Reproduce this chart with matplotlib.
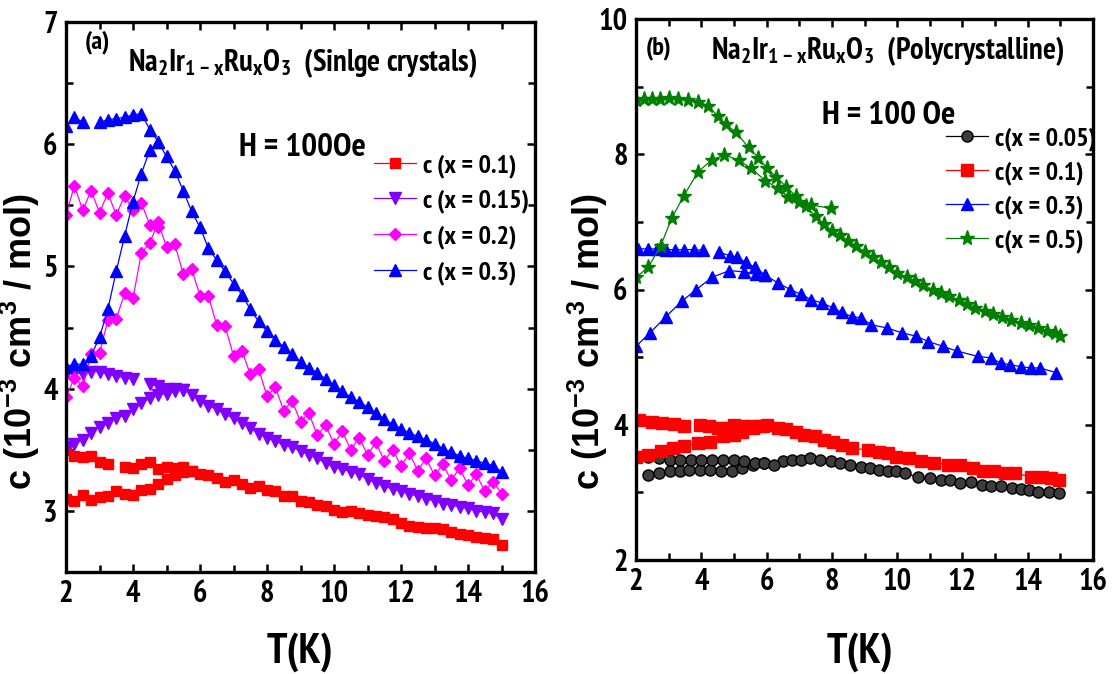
import numpy as np
import matplotlib
matplotlib.use("Agg")
import matplotlib.pyplot as plt
from matplotlib.ticker import MultipleLocator

plt.rcParams['font.family'] = ['PT Sans Narrow', 'DejaVu Sans']
plt.rcParams['font.weight'] = 'bold'
plt.rcParams['mathtext.default'] = 'regular'

# ---------------- (a) single crystals, 0.25 K grid ----------------
T_a = np.arange(2.0, 15.01, 0.25)

# ZFC branches (full range) and FC branches (low-T part until they merge)
red_zfc = [3.10, 3.08, 3.13, 3.09, 3.11, 3.12, 3.16, 3.14, 3.13, 3.17, 3.18, 3.22, 3.26,
           3.29, 3.32, 3.33, 3.30, 3.29, 3.27, 3.24, 3.25, 3.22, 3.19, 3.20, 3.17, 3.16,
           3.12, 3.12, 3.08, 3.07, 3.05, 3.04, 3.01, 2.99, 3.00, 2.98, 2.97, 2.96, 2.95,
           2.93, 2.90, 2.88, 2.87, 2.86, 2.86, 2.85, 2.83, 2.81, 2.80, 2.79, 2.78, 2.77, 2.72]
red_fc = [3.50, 3.45, 3.44, 3.45, 3.40, 3.38, np.nan, 3.36, 3.35, 3.38, 3.40, 3.34, 3.36,
          3.35, 3.36, 3.33]

purple_zfc = [3.52, 3.55, 3.58, 3.64, 3.69, 3.72, 3.76, 3.78, 3.83, 3.88, 3.92, 3.95, 3.96,
              3.98, 3.99, 3.95, 3.90, 3.86, 3.83, 3.79, 3.76, 3.72, 3.68, 3.63, 3.60, 3.57,
              3.54, 3.52, 3.49, 3.46, 3.43, 3.39, 3.36, 3.34, 3.32, 3.30, 3.26, 3.23, 3.20,
              3.18, 3.16, 3.14, 3.12, 3.10, 3.08, 3.06, 3.05, 3.03, 3.02, 3.00, 2.99, 2.98, 2.93]
purple_fc = [4.12, 4.13, 4.12, 4.14, 4.14, 4.12, 4.10, 4.09, 4.08, np.nan, 4.04, 4.02, 4.00,
             4.00, 3.99]

pink_zfc = [3.93, 4.09, 4.02, 4.28, 4.29, 4.56, 4.57, 4.78, 4.74, 5.11, 5.19, 5.36, 5.16,
            5.18, 4.94, 4.98, 4.76, 4.76, 4.52, 4.51, 4.27, 4.31, 4.12, 4.16, 3.94, 4.01,
            3.82, 3.90, 3.73, 3.80, 3.62, 3.70, 3.55, 3.65, 3.50, 3.60, 3.46, 3.56, 3.41,
            3.50, 3.37, 3.47, 3.33, 3.43, 3.29, 3.38, 3.25, 3.35, 3.21, 3.30, 3.16, 3.24, 3.14]
pink_fc = [5.42, 5.66, 5.46, 5.62, 5.44, 5.60, 5.42, 5.58, 5.46, 5.52, 5.34, 5.32]

blue_zfc = [4.18, 4.20, 4.20, 4.27, 4.42, 4.65, 4.96, 5.25, 5.53, 5.76, 5.95, 6.02, 5.90,
            5.78, 5.62, 5.45, 5.32, 5.15, 5.05, 4.96, 4.86, 4.77, 4.65, 4.55, 4.47, 4.40,
            4.34, 4.28, 4.22, 4.17, 4.13, 4.08, 4.03, 3.98, 3.93, 3.89, 3.85, 3.80, 3.75,
            3.71, 3.67, 3.64, 3.61, 3.58, 3.55, 3.51, 3.48, 3.45, 3.43, 3.41, 3.39, 3.37, 3.32]
blue_fc = [6.15, 6.22, 6.18, np.nan, 6.18, 6.20, 6.21, 6.22, 6.24, 6.25, 6.12, 6.02]

# ---------------- (b) polycrystalline ----------------
blk_T_fc = [2.38, 2.71, 3.03, 3.36, 3.68, 4.00, 4.33, 4.66, 4.99, 5.31, 5.64, 5.91, 6.23]
blk_fc = [3.53, 3.51, 3.48, 3.48, 3.48, 3.48, 3.48, 3.48, 3.48, 3.46, 3.44, 3.43, 3.41]
blk_T_zfc = [2.38, 2.71, 3.03, 3.36, 3.63, 3.95, 4.28, 4.61, 4.93, 5.26, 5.58, 5.91, 6.50,
             6.78, 7.05, 7.32, 7.65, 7.97, 8.24, 8.57, 8.89, 9.17, 9.44, 9.71, 9.98, 10.25,
             10.63, 11.01, 11.34, 11.61, 11.93, 12.26, 12.59, 12.86, 13.18, 13.51, 13.78,
             14.05, 14.32, 14.65, 14.97]
blk_zfc = [3.26, 3.28, 3.31, 3.31, 3.33, 3.33, 3.33, 3.31, 3.31, 3.36, 3.41, 3.43, 3.46,
           3.48, 3.48, 3.51, 3.48, 3.46, 3.43, 3.41, 3.38, 3.36, 3.33, 3.31, 3.31, 3.28,
           3.23, 3.21, 3.19, 3.19, 3.14, 3.16, 3.11, 3.09, 3.09, 3.06, 3.05, 3.04, 3.01,
           3.01, 2.99]

red_T_fc = [2.10, 2.50, 2.80, 3.15, 3.47, np.nan, 3.95, 4.23, 4.50, 4.77, 4.99, 5.26, 5.53,
            5.80, 6.02]
red_b_fc = [4.07, 4.04, 4.02, 4.01, 3.98, np.nan, 4.00, 3.98, 3.95, 3.95, 4.00, 3.98, 3.98,
            3.98, 4.00]
red_T_zfc = [2.00, 2.38, 2.76, 3.14, 3.47, 3.90, 4.28, 4.66, 4.99, 5.26, 5.58, 5.90, 6.34,
             6.61, 6.89, 7.16, 7.48, 7.75, 8.03, 8.30, 8.62, 9.11, 9.44, 9.71, 9.98, 10.36,
             10.74, 11.12, 11.55, 11.93, 12.31, 12.64, 12.97, 13.29, 13.62, 14.10, 14.43,
             14.70, 14.97]
red_b_zfc = [3.53, 3.56, 3.61, 3.66, 3.68, 3.73, 3.75, 3.83, 3.85, 3.90, 3.95, 3.98, 3.95,
             3.93, 3.90, 3.85, 3.83, 3.78, 3.75, 3.70, 3.65, 3.63, 3.60, 3.58, 3.53, 3.51,
             3.46, 3.44, 3.41, 3.41, 3.36, 3.31, 3.31, 3.28, 3.28, 3.23, 3.22, 3.21, 3.19]

blu_T_fc = [2.05, 2.38, 2.65, 2.92, 3.19, 3.47, 3.79, 4.06, np.nan, 4.55, 4.88, 5.09, 5.37,
            5.64, 5.96, 6.34, 6.72, 7.05, 7.37, 7.70, 8.03, 8.30, 8.62, 8.90, 9.20, 9.70,
            10.14, 10.58, 10.96, 11.40, 11.83, 12.48, 12.86, 13.18, 13.45, 13.78, 14.10,
            14.38, 14.87]
blu_b_fc = [6.60, 6.60, 6.60, 6.59, 6.59, 6.59, 6.59, 6.58, np.nan, 6.55, 6.50, 6.48, 6.40,
            6.33, 6.21, 6.10, 6.00, 5.93, 5.85, 5.80, 5.73, 5.66, 5.60, 5.58, 5.48, 5.43,
            5.36, 5.31, 5.23, 5.16, 5.09, 5.01, 4.99, 4.91, 4.89, 4.86, 4.84, 4.84, 4.77]
blu_T_zfc = [2.00, 2.43, 2.92, 3.41, 3.85, 4.33, 4.86, 5.31, 5.69, 5.96]
blu_b_zfc = [5.16, 5.36, 5.60, 5.83, 6.00, 6.18, 6.28, 6.26, 6.23, 6.21]

grn_T_fc = [2.00, 2.25, 2.50, 2.75, 3.00, 3.30, 3.60, 3.90, 4.20, 4.50, 4.75, 5.05, 5.45,
            5.75, 6.00, 6.30, 6.60, 6.90, 7.20, 7.50, 7.75, 8.00, 8.25, 8.50, 8.75, 9.00,
            9.25, 9.50, 9.75, 10.00, 10.30, 10.55, 10.80, 11.10, 11.35, 11.60, 11.90, 12.15,
            12.40, 12.70, 12.95, 13.20, 13.50, 13.80, 14.05, 14.30, 14.60, 14.85, 15.00]
grn_fc = [8.80, 8.81, 8.82, 8.82, 8.83, 8.82, 8.80, 8.78, 8.72, 8.57, 8.44, 8.33, 8.10, 7.95,
          7.80, 7.66, 7.52, 7.38, 7.24, 7.08, 6.97, 6.87, 6.80, 6.72, 6.64, 6.56, 6.48, 6.40,
          6.33, 6.25, 6.18, 6.12, 6.06, 6.00, 5.95, 5.90, 5.84, 5.78, 5.73, 5.68, 5.64, 5.60,
          5.55, 5.51, 5.47, 5.43, 5.39, 5.35, 5.31]
grn_T_zfc = [2.00, 2.38, 2.76, 3.09, 3.47, 3.90, 4.33, 4.71, 5.15, 5.53, 5.96, 6.34, 6.67,
             7.00, 7.37, 7.97]
grn_zfc = [6.18, 6.33, 6.65, 7.05, 7.39, 7.74, 7.92, 7.99, 7.91, 7.79, 7.61, 7.50, 7.37,
           7.30, 7.25, 7.20]

W, H = 1116, 674
fig = plt.figure(figsize=(W / 100, H / 100), dpi=100)


def px_box(x0, y0, x1, y1):
    return [x0 / W, 1 - y1 / H, (x1 - x0) / W, (y1 - y0) / H]


def fx(x):
    return x / W


def fy(y):
    return 1 - y / H


ax1 = fig.add_axes(px_box(66, 22, 535, 572))
ax2 = fig.add_axes(px_box(636, 19, 1093, 560))


def style(ax, ylim, ymaj, ymin):
    ax.set_xlim(2, 16)
    ax.set_ylim(*ylim)
    ax.xaxis.set_major_locator(MultipleLocator(2))
    ax.xaxis.set_minor_locator(MultipleLocator(1))
    ax.yaxis.set_major_locator(MultipleLocator(ymaj))
    ax.yaxis.set_minor_locator(MultipleLocator(ymin))
    ax.tick_params(which='both', direction='in', top=True, right=True, width=1.8)
    ax.tick_params(which='major', length=6, labelsize=22, pad=6)
    ax.tick_params(which='minor', length=5)
    for s in ax.spines.values():
        s.set_linewidth(2.4)


# panel (a)
series_a = [
    ('c (x = 0.1)', red_zfc, red_fc, '#ff0000', 's', 7),
    ('c (x = 0.15)', purple_zfc, purple_fc, '#8000ff', 'v', 8),
    ('c (x = 0.2)', pink_zfc, pink_fc, '#ff00ff', 'D', 6.5),
    ('c (x = 0.3)', blue_zfc, blue_fc, '#0000ff', '^', 8),
]
for label, zfc, fc, col, mk, ms in series_a:
    kw = dict(color=col, marker=mk, ms=ms, lw=0.9, mec=col)
    ax1.plot(T_a, zfc, label=label, **kw)
    ax1.plot(T_a[:len(fc)], fc, **kw)

style(ax1, (2.5, 7), 1, 0.5)
ax1.legend(loc='center left', bbox_to_anchor=(fx(374), fy(219)), bbox_transform=fig.transFigure,
           frameon=False, fontsize=19, handlelength=1.6, handletextpad=0.25,
           labelspacing=0.44, borderpad=0, borderaxespad=0)

# panel (b)
series_b = [
    ('c(x = 0.05)', blk_T_zfc, blk_zfc, blk_T_fc, blk_fc, 'black', 'o', 8, '#3c3c3c'),
    ('c(x = 0.1)', red_T_zfc, red_b_zfc, red_T_fc, red_b_fc, '#ff0000', 's', 8, '#ff0000'),
    ('c(x = 0.3)', blu_T_fc, blu_b_fc, blu_T_zfc, blu_b_zfc, '#0000ff', '^', 9, '#0000ff'),
    ('c(x = 0.5)', grn_T_fc, grn_fc, grn_T_zfc, grn_zfc, '#008000', '*', 11, '#008000'),
]
for label, t1, v1, t2, v2, col, mk, ms, face in series_b:
    kw = dict(color=col, marker=mk, ms=ms, lw=0.9, mfc=face, mec=col)
    ax2.plot(t1, v1, label=label, **kw)
    ax2.plot(t2, v2, **kw)

style(ax2, (2, 10), 2, 1)
ax2.legend(loc='center left', bbox_to_anchor=(fx(946), fy(190)), bbox_transform=fig.transFigure,
           frameon=False, fontsize=19, handlelength=1.6, handletextpad=0.25,
           labelspacing=0.37, borderpad=0, borderaxespad=0)

# annotations
fig.text(fx(85), fy(42), '(a)', fontsize=19, va='center', ha='left')
fig.text(fx(646), fy(48), '(b)', fontsize=19, va='center', ha='left')
fig.text(fx(128), fy(63), r'$\mathregular{Na_2Ir_{1-x}Ru_xO_3}$  (Sinlge crystals)',
         fontsize=22, va='center', ha='left')
fig.text(fx(711), fy(51), r'$\mathregular{Na_2Ir_{1-x}Ru_xO_3}$  (Polycrystalline)',
         fontsize=22, va='center', ha='left')
fig.text(fx(239), fy(148), 'H = 100Oe', fontsize=24, va='center', ha='left')
fig.text(fx(822), fy(116), 'H = 100 Oe', fontsize=24, va='center', ha='left')

ylab = r'c (10$^{\mathregular{-3}}$ cm$^{\mathregular{3}}$ / mol)'
for xc in (20, 588):
    fig.text(fx(xc), fy(342), ylab, rotation=90, fontsize=26, va='center', ha='center',
             family=['Liberation Sans', 'DejaVu Sans'], fontweight='bold')
for xc in (300, 860):
    fig.text(fx(xc), fy(652), 'T(K)', fontsize=31, va='center', ha='center')

fig.savefig('out.png', dpi=100)
